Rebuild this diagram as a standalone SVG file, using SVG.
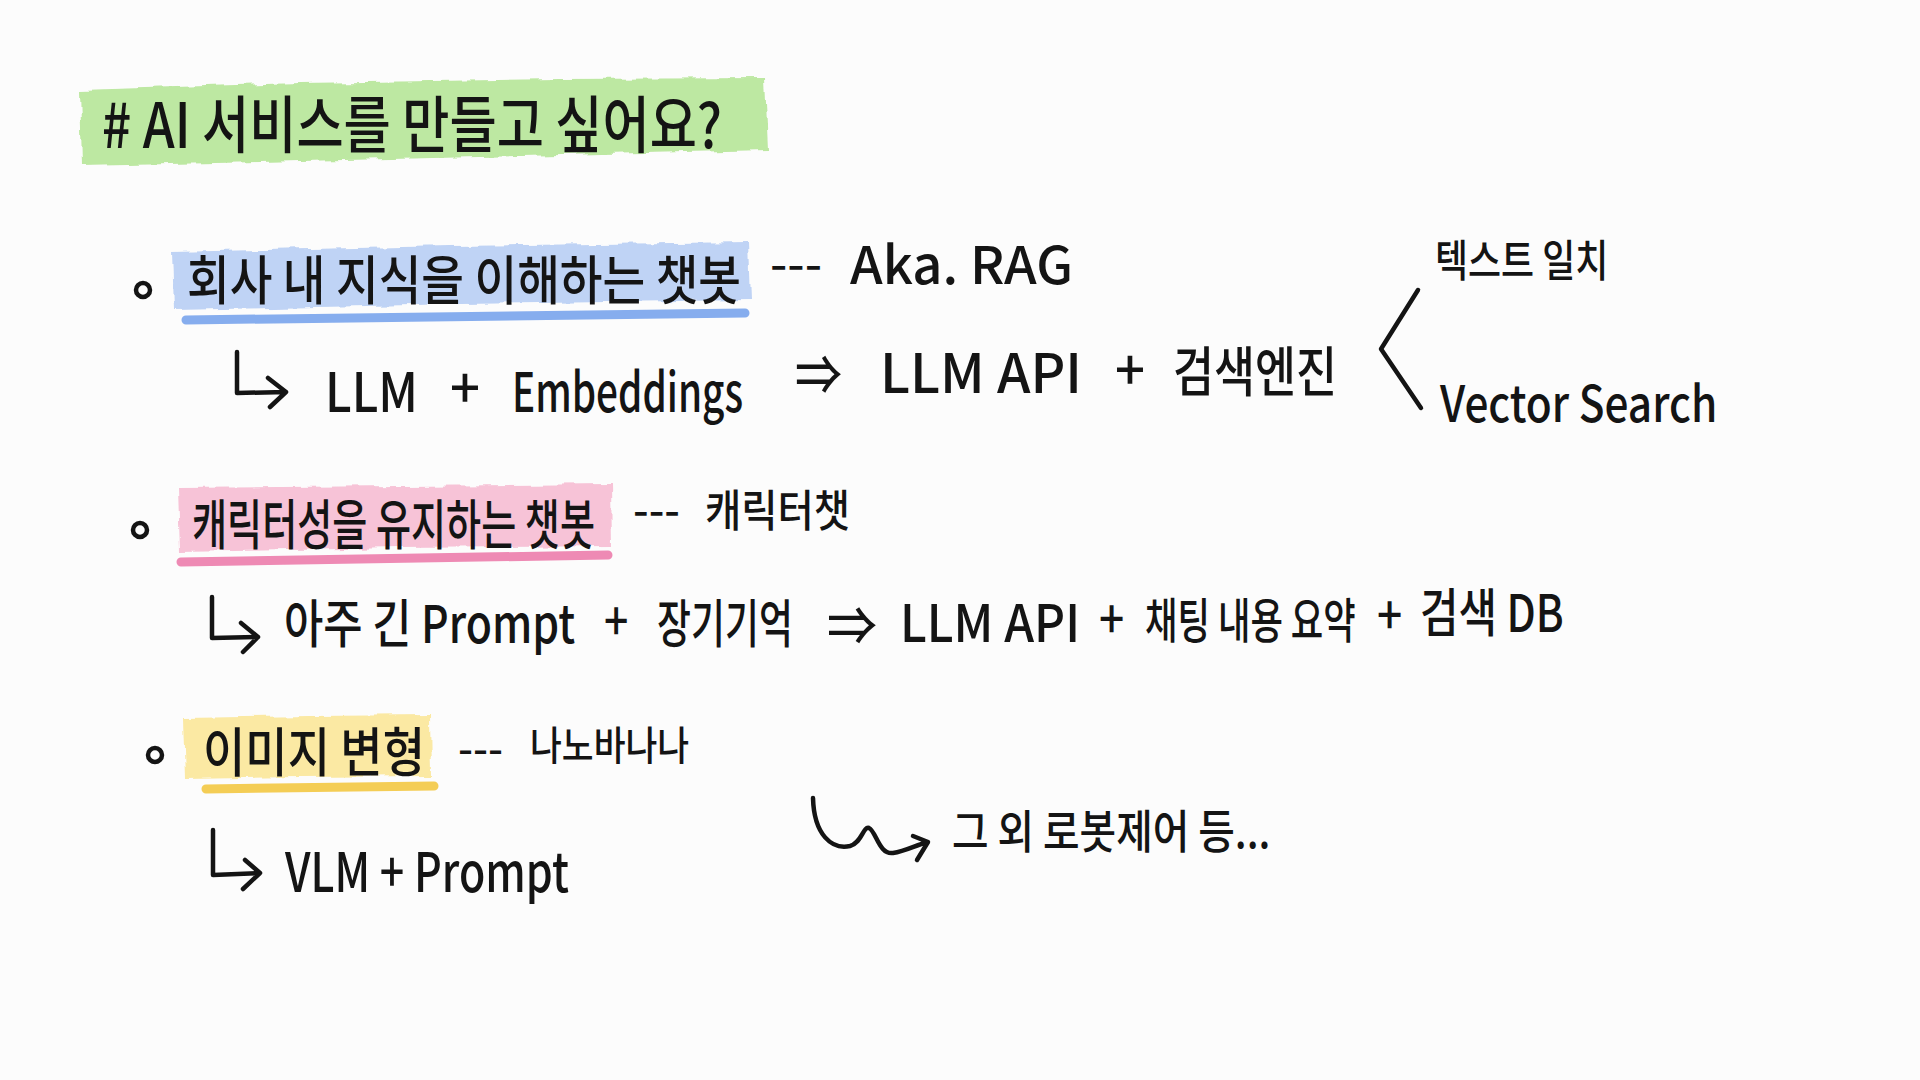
<svg xmlns="http://www.w3.org/2000/svg" width="1920" height="1080" viewBox="0 0 1920 1080">
<defs>
<style>
.t{font-family:"Noto Sans CJK KR","Noto Sans",sans-serif;fill:#141414;font-weight:500}
.ln{fill:none;stroke:#141414;stroke-width:4.5;stroke-linecap:round;stroke-linejoin:round}
.hl{filter:url(#brush)}
.ul{fill:none;stroke-width:9;stroke-linecap:round}
.dot{fill:none;stroke:#141414;stroke-width:4.5}
</style>
<filter id="brush" x="-5%" y="-20%" width="110%" height="140%">
<feTurbulence type="fractalNoise" baseFrequency="0.05" numOctaves="2" seed="3" result="n"/>
<feDisplacementMap in="SourceGraphic" in2="n" scale="8" xChannelSelector="R" yChannelSelector="G"/>
</filter>
</defs>
<rect width="1920" height="1080" fill="#fcfcfc"/>

<g id="title">
<path class="hl" d="M80,90 L300,83 L560,79 L765,78 L768,150 L520,156 L300,161 L82,166 Z" fill="#bde8a2"/>
<text class="t" transform="translate(102,148) scale(0.78,1)" font-size="62" textLength="795" lengthAdjust="spacingAndGlyphs"># AI 서비스를 만들고 싶어요?</text>
</g>

<g id="item1">
<circle class="dot" cx="143" cy="290" r="7"/>
<path class="hl" d="M172,252 L450,246 L748,242 L750,300 L460,304 L174,310 Z" fill="#bfd3f5"/>
<path class="ul" d="M186,320 L745,313" stroke="#86adee"/>
<text class="t" transform="translate(187,300) scale(0.81,1)" font-size="54" textLength="684" lengthAdjust="spacingAndGlyphs">회사 내 지식을 이해하는 챗봇</text>
<text class="t" x="770" y="280" font-size="44" textLength="52" lengthAdjust="spacingAndGlyphs">---</text>
<text class="t" x="850" y="284" font-size="52" textLength="223" lengthAdjust="spacingAndGlyphs">Aka. RAG</text>
</g>

<g id="item1-detail">
<text class="t" x="325" y="412" font-size="54" textLength="93" lengthAdjust="spacingAndGlyphs">LLM</text>
<text class="t" x="450" y="408" font-size="54" textLength="30" lengthAdjust="spacingAndGlyphs">+</text>
<text class="t" transform="translate(512,412) scale(0.76,1)" font-size="54" textLength="304" lengthAdjust="spacingAndGlyphs">Embeddings</text>
<text class="t" transform="translate(795,395) scale(0.87,1)" font-size="54" textLength="54" lengthAdjust="spacingAndGlyphs">⇒</text>
<text class="t" x="880" y="393" font-size="54" textLength="202" lengthAdjust="spacingAndGlyphs">LLM API</text>
<text class="t" x="1115" y="390" font-size="54" textLength="30" lengthAdjust="spacingAndGlyphs">+</text>
<text class="t" transform="translate(1173,392) scale(0.76,1)" font-size="54" textLength="216" lengthAdjust="spacingAndGlyphs">검색엔진</text>
</g>

<g id="search-text">
<text class="t" transform="translate(1435,277) scale(0.75,1)" font-size="44" textLength="231" lengthAdjust="spacingAndGlyphs">텍스트 일치</text>
</g>
<g id="search-vector">
<text class="t" transform="translate(1440,422) scale(0.88,1)" font-size="50" textLength="315" lengthAdjust="spacingAndGlyphs">Vector Search</text>
</g>

<g id="item2">
<circle class="dot" cx="140" cy="530" r="7"/>
<path class="hl" d="M178,488 L400,486 L611,484 L612,546 L400,548 L180,552 Z" fill="#f7c3d7"/>
<path class="ul" d="M181,562 L608,555" stroke="#ee8ab4"/>
<text class="t" transform="translate(192,545) scale(0.65,1)" font-size="54" textLength="620" lengthAdjust="spacingAndGlyphs">캐릭터성을 유지하는 챗봇</text>
<text class="t" x="633" y="526" font-size="44" textLength="47" lengthAdjust="spacingAndGlyphs">---</text>
<text class="t" transform="translate(705,527) scale(0.82,1)" font-size="44" textLength="177" lengthAdjust="spacingAndGlyphs">캐릭터챗</text>
</g>

<g id="item2-detail">
<text class="t" transform="translate(284,643) scale(0.82,1)" font-size="52" textLength="355" lengthAdjust="spacingAndGlyphs">아주 긴 Prompt</text>
<text class="t" transform="translate(604,640) scale(0.84,1)" font-size="52" textLength="29" lengthAdjust="spacingAndGlyphs">+</text>
<text class="t" transform="translate(657,643) scale(0.65,1)" font-size="52" textLength="209" lengthAdjust="spacingAndGlyphs">장기기억</text>
<text class="t" x="827" y="645" font-size="52" textLength="50" lengthAdjust="spacingAndGlyphs">⇒</text>
<text class="t" x="900" y="642" font-size="52" textLength="180" lengthAdjust="spacingAndGlyphs">LLM API</text>
<text class="t" transform="translate(1099,638) scale(0.87,1)" font-size="52" textLength="29" lengthAdjust="spacingAndGlyphs">+</text>
<text class="t" transform="translate(1145,638) scale(0.68,1)" font-size="48" textLength="310" lengthAdjust="spacingAndGlyphs">채팅 내용 요약</text>
<text class="t" transform="translate(1377,634) scale(0.87,1)" font-size="52" textLength="29" lengthAdjust="spacingAndGlyphs">+</text>
<text class="t" transform="translate(1420,632) scale(0.79,1)" font-size="52" textLength="182" lengthAdjust="spacingAndGlyphs">검색 DB</text>
</g>

<g id="item3">
<circle class="dot" cx="155" cy="755" r="7"/>
<path class="hl" d="M183,718 L310,716 L431,715 L432,776 L300,777 L185,779 Z" fill="#fbe9a3"/>
<path class="ul" d="M206,789 L434,786" stroke="#f4cd55"/>
<text class="t" transform="translate(203,772) scale(0.79,1)" font-size="54" textLength="281" lengthAdjust="spacingAndGlyphs">이미지 변형</text>
<text class="t" x="458" y="764" font-size="42" textLength="45" lengthAdjust="spacingAndGlyphs">---</text>
<text class="t" transform="translate(530,760) scale(0.8,1)" font-size="40" textLength="199" lengthAdjust="spacingAndGlyphs">나노바나나</text>
</g>

<g id="item3-detail">
<text class="t" transform="translate(285,892) scale(0.84,1)" font-size="54" textLength="338" lengthAdjust="spacingAndGlyphs">VLM + Prompt</text>
</g>

<g id="others">
<text class="t" transform="translate(952,848) scale(0.81,1)" font-size="46" textLength="393" lengthAdjust="spacingAndGlyphs">그 외 로봇제어 등...</text>
</g>

<g id="connectors">
<path class="ln" d="M237,352 L237,393 L286,392 M268,378 L286,392 L270,407"/>
<path class="ln" d="M1418,290 L1381,349 L1421,408"/>
<path class="ln" d="M212,597 L212,638 L258,637 M241,623 L258,637 L243,652"/>
<path class="ln" d="M213,830 L213,875 L260,873 M245,860 L260,873 L243,889"/>
<path class="ln" d="M813,798 C814,835 832,850 850,846 C862,843 863,826 869,828 C876,831 879,855 893,853 C906,851 916,845 928,842 M913,836 L928,842 L917,860"/>
</g>
</svg>
